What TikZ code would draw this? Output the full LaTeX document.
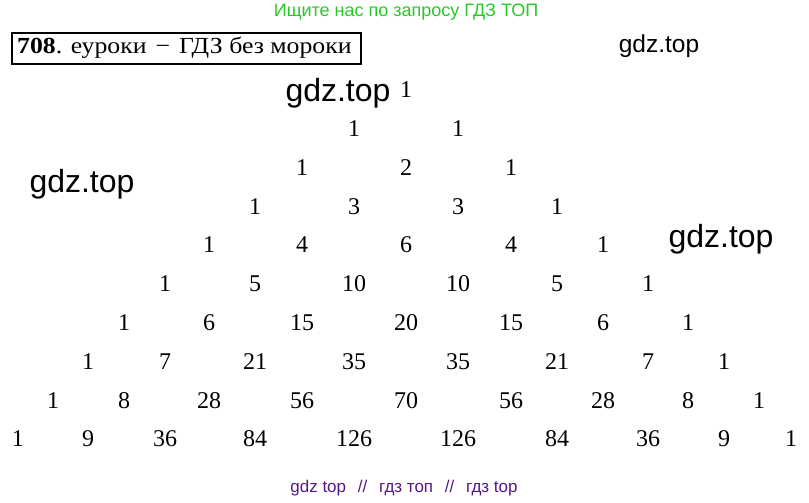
\documentclass[tikz,border=0pt]{standalone}
\usepackage{fontspec}
\setmainfont{Liberation Serif}
\newfontfamily\wmfont{Liberation Sans}
\definecolor{wmgreen}{RGB}{40,200,40}
\definecolor{wmpurple}{RGB}{85,25,135}
\tikzset{
  num/.style={inner sep=0pt, font=\fontsize{24}{26}\selectfont},
  wm/.style={inner sep=0pt, font=\wmfont\fontsize{32}{36}\selectfont},
  wmsmall/.style={inner sep=0pt, font=\wmfont\fontsize{24.5}{28}\selectfont},
}
\begin{document}
\begin{tikzpicture}[x=1pt,y=-1pt]
\useasboundingbox (0,0) rectangle (809,503);
\node[inner sep=0pt, text=wmgreen, font=\wmfont\fontsize{18}{20}\selectfont] (top) at (406,12) {Ищите нас по запросу ГДЗ ТОП};
\node[draw, line width=1.6pt, inner sep=0pt, minimum width=349pt, minimum height=31pt] (box) at (186.5,48.5) {};
\node[inner sep=0pt, anchor=west, font=\fontsize{23}{25}\selectfont, xscale=1.12, transform shape] (title) at (17,48) {\textbf{708}. еуроки\hspace{8pt}−\hspace{8pt}ГДЗ без мороки};
\node[wmsmall] (w1) at (659,46) {gdz.top};
\node[wm] (w2) at (338,93) {gdz.top};
\node[wm] (w3) at (82,184) {gdz.top};
\node[wm] (w4) at (721,239) {gdz.top};
\def\cols{{18,53,88,124,165,209,255,302,354,406,458,511,557,603,648,688,724,759,791}}
\def\rows{{90,129,168,207,245,284,323,362,401,439}}
\foreach \row [count=\r from 0] in {{1},{1,1},{1,2,1},{1,3,3,1},{1,4,6,4,1},{1,5,10,10,5,1},{1,6,15,20,15,6,1},{1,7,21,35,35,21,7,1},{1,8,28,56,70,56,28,8,1},{1,9,36,84,126,126,84,36,9,1}}{
  \foreach \v [count=\k from 0] in \row {
    \pgfmathsetmacro\xx{\cols[9-\r+2*\k]}
    \pgfmathsetmacro\yy{\rows[\r]}
    \node[num] (n\r-\k) at (\xx,\yy) {\v};
  }
}
\node[inner sep=0pt, text=wmpurple, font=\wmfont\fontsize{17}{19}\selectfont] (bot) at (404,488) {gdz top\hspace{7pt} //\hspace{7pt} гдз топ\hspace{7pt} //\hspace{7pt} гдз top};
\end{tikzpicture}
\end{document}
